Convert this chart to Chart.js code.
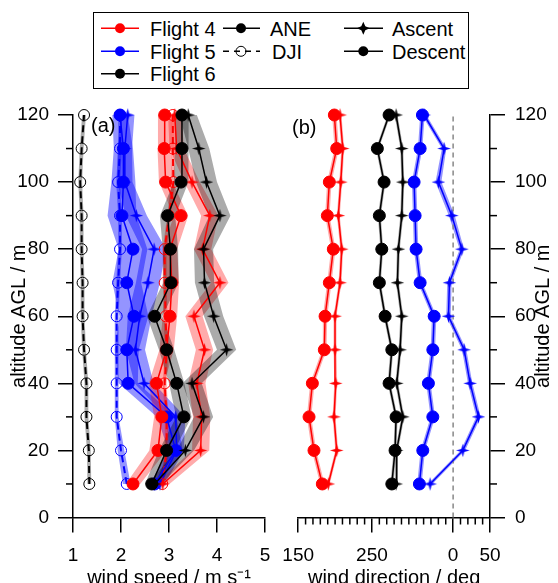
<!DOCTYPE html>
<html><head><meta charset="utf-8">
<script src="https://cdn.jsdelivr.net/npm/chart.js@4"></script>
<style>
html,body{margin:0;padding:0;background:#fff;overflow:hidden;width:558px;height:583px;}
#wrap{position:relative;width:558px;height:583px;overflow:hidden;font-family:"Liberation Sans",Arial,sans-serif;color:#000;}
#ca{position:absolute;left:0;top:0;}
#cb{position:absolute;left:280px;top:0;}
#legend{position:absolute;left:93px;top:12px;width:376px;height:77px;border:1px solid #000;box-sizing:border-box;background:#fff;}
.lt{position:absolute;font-size:20px;line-height:20px;white-space:nowrap;}
.pl{position:absolute;font-size:20px;line-height:20px;white-space:nowrap;}
</style></head>
<body><div id="wrap">
<canvas id="ca" width="290" height="600"></canvas>
<canvas id="cb" width="278" height="600"></canvas>
<div class="pl" style="left:91px;top:115px">(a)</div>
<div class="pl" style="left:292px;top:117px">(b)</div>
<div id="legend">
<svg width="374" height="75" style="position:absolute;left:0;top:0">
  <line x1="7" y1="15.3" x2="45" y2="15.3" stroke="#f00" stroke-width="1.5"/>
  <circle cx="26" cy="15.3" r="5" fill="#f00"/>
  <line x1="7" y1="38.3" x2="45" y2="38.3" stroke="#00f" stroke-width="1.5"/>
  <circle cx="26" cy="38.3" r="5" fill="#00f"/>
  <line x1="7" y1="60.7" x2="45" y2="60.7" stroke="#000" stroke-width="1.5"/>
  <circle cx="26" cy="60.7" r="5" fill="#000"/>
  <line x1="129" y1="15.3" x2="166" y2="15.3" stroke="#000" stroke-width="1.5"/>
  <circle cx="147" cy="15.3" r="5" fill="#000"/>
  <line x1="129" y1="38.3" x2="166" y2="38.3" stroke="#000" stroke-width="1.5" stroke-dasharray="6 5"/>
  <circle cx="147" cy="38.3" r="5" fill="none" stroke="#000" stroke-width="1"/>
  <line x1="250" y1="15.3" x2="289" y2="15.3" stroke="#000" stroke-width="1.5"/>
  <polygon points="269.3,8.8 271.3,13.3 275.8,15.3 271.3,17.3 269.3,21.8 267.3,17.3 262.8,15.3 267.3,13.3" fill="#000"/>
  <line x1="250" y1="38.3" x2="289" y2="38.3" stroke="#000" stroke-width="1.5"/>
  <circle cx="269.3" cy="38.3" r="5" fill="#000"/>
</svg>
<div class="lt" style="left:56px;top:5.5px">Flight 4</div>
<div class="lt" style="left:56px;top:28.5px">Flight 5</div>
<div class="lt" style="left:56px;top:50.9px">Flight 6</div>
<div class="lt" style="left:176px;top:5.5px">ANE</div>
<div class="lt" style="left:178px;top:28.5px">DJI</div>
<div class="lt" style="left:298px;top:5.5px">Ascent</div>
<div class="lt" style="left:298px;top:28.5px">Descent</div>
</div>
</div>
<script>
// ---------------- DATA ----------------
const altitude = [10,20,30,40,50,60,70,80,90,100,110,120];
const speedTicks = [1,2,3,4,5];
const altTicksMajor = [0,20,40,60,80,100,120];
const altTicksMinor = [10,30,50,70,90,110];
const dirTicksMajor = [150,250,360,410];
const dirTickLabels = ['150','250','0','50'];
const dirTicksMinor = [160,170,180,190,200,210,220,230,240,260,270,280,290,300,310,320,330,340,350,370,380,390,400];

// wind speed (m/s) - Flight 4
const f4SpeedDesc   = [2.25,2.77,2.85,2.74,2.95,3.02,3.06,3.02,3.25,2.93,2.90,2.91];
const f4SpeedDescSd = [0.15,0.18,0.16,0.16,0.15,0.15,0.15,0.15,0.15,0.14,0.14,0.14];
const f4SpeedAsc    = [2.87,3.66,3.68,3.58,3.74,3.52,4.06,3.70,3.85,3.48,3.16,3.12];
const f4SpeedAscSd  = [0.14,0.18,0.18,0.18,0.18,0.18,0.18,0.18,0.18,0.16,0.15,0.14];
const f4SpeedDji    = [2.86,2.95,2.95,2.91,2.95,2.93,2.91,2.91,3.00,3.09,3.08,3.08];
const f4SpeedDjiSd  = [0.04,0.04,0.04,0.04,0.04,0.04,0.04,0.04,0.04,0.04,0.04,0.04];
// Flight 5
const f5SpeedDesc   = [2.70,3.14,2.95,2.15,2.12,2.27,2.12,2.25,2.02,2.05,2.05,1.98];
const f5SpeedDescSd = [0.10,0.15,0.20,0.20,0.25,0.30,0.30,0.30,0.30,0.25,0.20,0.16];
const f5SpeedAsc    = [2.81,3.16,3.14,2.48,2.30,2.39,2.56,2.69,2.32,2.08,2.08,2.14];
const f5SpeedAscSd  = [0.10,0.15,0.20,0.20,0.20,0.25,0.25,0.25,0.22,0.16,0.15,0.14];
const f5SpeedDji    = [2.12,2.00,1.91,1.91,1.91,1.91,1.94,1.98,1.98,1.94,1.98,1.98];
const f5SpeedDjiSd  = [0.08,0.07,0.04,0.04,0.04,0.04,0.04,0.04,0.04,0.04,0.04,0.04];
// Flight 6
const f6SpeedDesc   = [2.64,2.95,3.31,3.16,2.95,2.70,3.04,3.03,2.97,3.25,3.27,3.27];
const f6SpeedDescSd = [0.14,0.16,0.16,0.16,0.16,0.16,0.16,0.16,0.16,0.15,0.14,0.14];
const f6SpeedAsc    = [2.70,3.34,3.72,3.48,4.20,3.93,3.74,3.72,4.06,3.78,3.62,3.40];
const f6SpeedAscSd  = [0.14,0.18,0.20,0.20,0.20,0.20,0.20,0.20,0.22,0.22,0.22,0.18];
const f6SpeedDji    = [1.34,1.33,1.28,1.28,1.23,1.20,1.20,1.18,1.18,1.15,1.18,1.23];
const f6SpeedDjiSd  = [0.04,0.04,0.04,0.04,0.04,0.04,0.04,0.04,0.04,0.04,0.04,0.04];

// wind direction (deg)
const f4DirDesc   = [182.7,171.4,164.7,169.2,185.4,186.4,192.2,197.6,189.5,192.2,202.2,199.0];
const f4DirDescSd = [3,3,3,3,3,3,3,3,3,3,3,3];
const f4DirAsc    = [190.8,202.2,198.6,200.9,199.9,199.9,206.7,209.0,204.4,207.7,210.4,206.7];
const f4DirAscSd  = [2,2,2,2,2,2,2,2,2,2,2,2];
const f5DirDesc   = [314.3,318.9,332.5,326.5,332.5,334.3,315.3,309.8,308.5,307.1,315.3,318.4];
const f5DirDescSd = [3,3,3,3,3,3,3,3,3,3,3,3];
const f5DirAsc    = [328.8,13.2,34.4,23.1,15.0,353.7,355.0,11.8,358.3,340.1,347.8,320.7];
const f5DirAscSd  = [3,3,3,3,3,3,3,3,4,4,3,3];
const f6DirDesc   = [276.9,281.3,282.7,273.2,276.9,267.8,260.0,263.3,260.0,266.4,257.3,273.2];
const f6DirDescSd = [2,2,2,2,2,2,2,2,2,2,2,2];
const f6DirAsc    = [282.7,283.5,291.8,283.6,288.1,290.4,284.5,285.8,290.4,291.8,290.4,282.7];
const f6DirAscSd  = [2,2,2,2,2,2,2,2,2,2,2,2];
const northLine = [360, 360];
const northAlt = [0, 120];

// ---------------- STYLE ----------------
const FONT = '"Liberation Sans", Arial, sans-serif';
Chart.defaults.font.family = FONT;
Chart.defaults.color = '#000';
const RED = '#ff0000', BLUE = '#0000ff', BLACK = '#000000';
const BAND = {red:'rgba(255,0,0,0.33)', blue:'rgba(0,0,255,0.42)', black:'rgba(0,0,0,0.33)'};

function makeStar(color){
  const c = document.createElement('canvas'); c.width = 15; c.height = 15;
  const g = c.getContext('2d'); g.fillStyle = color;
  const cx = 7.5, cy = 7.5, R = 6.8, r = 2.0;
  g.beginPath();
  for (let i = 0; i < 8; i++) {
    const ang = -Math.PI/2 + i*Math.PI/4;
    const rad = (i % 2 === 0) ? R : r;
    g.lineTo(cx + rad*Math.cos(ang), cy + rad*Math.sin(ang));
  }
  g.closePath(); g.fill();
  return c;
}
const STAR = {red: makeStar(RED), blue: makeStar(BLUE), black: makeStar(BLACK)};
const unwrap = d => (d < 150 ? d + 360 : d);
const ident = v => v;

function pts(xs, map){ return altitude.map((a,i)=>({x: map(xs[i]), y: a})); }
function band(xs, sds, color, map, order){
  const lo = altitude.map((a,i)=>({x: map(xs[i]-sds[i]), y: a}));
  const hi = altitude.map((a,i)=>({x: map(xs[i]+sds[i]), y: a})).reverse();
  return {data: lo.concat(hi), fill: 'shape', backgroundColor: color, borderColor: 'rgba(0,0,0,0)',
          borderWidth: 0, pointRadius: 0, clip: false, order: order || 20};
}
function descSet(xs, color, map, order){
  return {data: pts(xs, map), borderColor: color, borderWidth: 1.5, fill: false, clip: false,
          pointStyle: 'circle', pointRadius: 6, pointBackgroundColor: color, pointBorderColor: color,
          pointBorderWidth: 1, order: order};
}
function ascSet(xs, colorName, color, map, order){
  return {data: pts(xs, map), borderColor: color, borderWidth: 1.5, fill: false, clip: false,
          pointStyle: STAR[colorName], pointRadius: 7, order: order};
}
function djiSet(xs, color, map, order){
  return {data: pts(xs, map), borderColor: color, borderWidth: 2, borderDash: [7,4], fill: false, clip: false,
          pointStyle: 'circle', pointRadius: 5.5, pointBackgroundColor: 'rgba(0,0,0,0)', pointBorderColor: color,
          pointBorderWidth: 1, order: order};
}

const minorTicks = {
  id: 'minorTicks',
  afterDraw(chart, args, opts){
    const ctx = chart.ctx;
    ctx.save(); ctx.strokeStyle = '#000'; ctx.lineWidth = 1.5;
    (opts.list || []).forEach(m => {
      const s = chart.scales[m.axis];
      m.values.forEach(v => {
        const p = s.getPixelForValue(v);
        ctx.beginPath();
        if (s.isHorizontal()) { ctx.moveTo(p, s.top); ctx.lineTo(p, s.top + 7); }
        else if (s.position === 'left') { ctx.moveTo(s.right, p); ctx.lineTo(s.right - 7, p); }
        else { ctx.moveTo(s.left, p); ctx.lineTo(s.left + 7, p); }
        ctx.stroke();
      });
    });
    ctx.restore();
  }
};
const rightTitle = {
  id: 'rightTitle',
  afterDraw(chart, args, opts){
    if (!opts.text) return;
    const ctx = chart.ctx, s = chart.scales.y;
    ctx.save();
    ctx.font = '20px ' + FONT; ctx.fillStyle = '#000';
    ctx.textAlign = 'center'; ctx.textBaseline = 'middle';
    ctx.translate(opts.x, (s.top + s.bottom)/2);
    ctx.rotate(-Math.PI/2);
    ctx.fillText(opts.text, 0, 0);
    ctx.restore();
  }
};

const gridOpts = {drawOnChartArea: false, drawTicks: true, tickLength: 15, lineWidth: 1.5, tickWidth: 1.5, color: '#000', tickColor: '#000'};
const borderOpts = {display: true, color: '#000', width: 1.5};
const tickFont = {size: 19, family: FONT};
const titleFont = {size: 20, family: FONT};
const fitX = s => { s.height = 82.5; s.paddingLeft = 0; s.paddingRight = 0; };

// ---------------- PANEL (a) ----------------
new Chart(document.getElementById('ca'), {
  type: 'line',
  data: { datasets: [
    band(f5SpeedDesc, f5SpeedDescSd, BAND.blue, ident, 22),
    band(f5SpeedAsc, f5SpeedAscSd, BAND.blue, ident, 22),
    band(f5SpeedDji, f5SpeedDjiSd, BAND.blue, ident, 22),
    band(f4SpeedDesc, f4SpeedDescSd, BAND.red, ident, 21),
    band(f4SpeedAsc, f4SpeedAscSd, BAND.red, ident, 21),
    band(f4SpeedDji, f4SpeedDjiSd, BAND.red, ident, 21),
    band(f6SpeedDesc, f6SpeedDescSd, BAND.black, ident, 20),
    band(f6SpeedAsc, f6SpeedAscSd, BAND.black, ident, 20),
    band(f6SpeedDji, f6SpeedDjiSd, BAND.black, ident, 20),
    djiSet(f6SpeedDji, BLACK, ident, 9),
    djiSet(f5SpeedDji, BLUE, ident, 8),
    djiSet(f4SpeedDji, RED, ident, 7),
    ascSet(f5SpeedAsc, 'blue', BLUE, ident, 6),
    descSet(f5SpeedDesc, BLUE, ident, 5),
    ascSet(f4SpeedAsc, 'red', RED, ident, 4),
    descSet(f4SpeedDesc, RED, ident, 3),
    ascSet(f6SpeedAsc, 'black', BLACK, ident, 2),
    descSet(f6SpeedDesc, BLACK, ident, 1)
  ]},
  options: {
    responsive: false, animation: false, events: [],
    layout: {padding: {top: 115, right: 25, left: 0, bottom: 0}},
    plugins: {legend: {display: false}, tooltip: {enabled: false},
      minorTicks: {list: [{axis: 'y', values: altTicksMinor}]}},
    scales: {
      x: {type: 'linear', position: 'bottom', min: 1, max: 5,
        afterFit: fitX,
        afterBuildTicks: s => { s.ticks = speedTicks.map(v => ({value: v})); },
        grid: gridOpts, border: borderOpts,
        ticks: {color: '#000', font: tickFont, padding: 12, maxRotation: 0, autoSkip: false},
        title: {display: true, text: 'wind speed / m s\u207B\u00B9', color: '#000', font: titleFont, padding: {top: 0, bottom: 10}}
      },
      y: {type: 'linear', position: 'left', min: 0, max: 120,
        afterFit: s => { s.width = 73; },
        afterBuildTicks: s => { s.ticks = altTicksMajor.map(v => ({value: v})); },
        grid: gridOpts, border: borderOpts,
        ticks: {color: '#000', font: tickFont, padding: 9, autoSkip: false},
        title: {display: true, text: 'altitude AGL / m', color: '#000', font: titleFont, padding: {top: 7, bottom: 0}}
      }
    }
  },
  plugins: [minorTicks]
});

// ---------------- PANEL (b) ----------------
new Chart(document.getElementById('cb'), {
  type: 'line',
  data: { datasets: [
    band(f5DirDesc, f5DirDescSd, BAND.blue, unwrap, 22),
    band(f5DirAsc, f5DirAscSd, BAND.blue, unwrap, 22),
    band(f4DirDesc, f4DirDescSd, BAND.red, unwrap, 21),
    band(f4DirAsc, f4DirAscSd, BAND.red, unwrap, 21),
    band(f6DirDesc, f6DirDescSd, BAND.black, unwrap, 20),
    band(f6DirAsc, f6DirAscSd, BAND.black, unwrap, 20),
    {data: northAlt.map((a,i)=>({x: northLine[i], y: a})), borderColor: '#888', borderWidth: 1.5,
      borderDash: [5,4], pointRadius: 0, fill: false, clip: false, order: 15},
    ascSet(f5DirAsc, 'blue', BLUE, unwrap, 6),
    descSet(f5DirDesc, BLUE, unwrap, 5),
    ascSet(f4DirAsc, 'red', RED, unwrap, 4),
    descSet(f4DirDesc, RED, unwrap, 3),
    ascSet(f6DirAsc, 'black', BLACK, unwrap, 2),
    descSet(f6DirDesc, BLACK, unwrap, 1)
  ]},
  options: {
    responsive: false, animation: false, events: [],
    layout: {padding: {top: 115, right: 0, left: 18.2, bottom: 0}},
    plugins: {legend: {display: false}, tooltip: {enabled: false},
      minorTicks: {list: [{axis: 'y', values: altTicksMinor}, {axis: 'x', values: dirTicksMinor}]},
      rightTitle: {text: 'altitude AGL / m', x: 263}},
    scales: {
      x: {type: 'linear', position: 'bottom', min: 150, max: 410,
        afterFit: fitX,
        afterBuildTicks: s => { s.ticks = dirTicksMajor.map(v => ({value: v})); },
        grid: gridOpts, border: borderOpts,
        ticks: {color: '#000', font: tickFont, padding: 12, maxRotation: 0, autoSkip: false,
          callback: v => { const i = dirTicksMajor.indexOf(v); return i >= 0 ? dirTickLabels[i] : ''; }},
        title: {display: true, text: 'wind direction / deg', color: '#000', font: titleFont, padding: {top: 0, bottom: 10}}
      },
      y: {type: 'linear', position: 'right', min: 0, max: 120,
        afterFit: s => { s.width = 68; s.paddingTop = 0; s.paddingBottom = 0; },
        afterBuildTicks: s => { s.ticks = altTicksMajor.map(v => ({value: v})); },
        grid: gridOpts, border: borderOpts,
        ticks: {color: '#000', font: tickFont, padding: 10, autoSkip: false},
        title: {display: false}
      }
    }
  },
  plugins: [minorTicks, rightTitle]
});
</script>
</body></html>
